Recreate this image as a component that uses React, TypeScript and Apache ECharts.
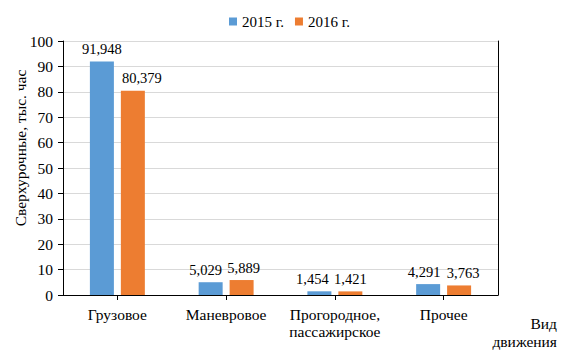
import React, { useEffect, useRef } from "react";
import * as echarts from "echarts";

const categories = ["Грузовое", "Маневровое", "Прогородное,\nпассажирское", "Прочее"];
const series2015 = [91.948, 5.029, 1.454, 4.291];
const series2016 = [80.379, 5.889, 1.421, 3.763];
const seriesNames = ["2015 г.", "2016 г."];
const yAxisTitle = "Сверхурочные, тыс. час";
const xAxisTitle = "Вид\nдвижения";
// horizontal nudges of the value labels, as placed in the original
const labelShift2015 = [0, -5, -7, -4];
const labelShift2016 = [9, 2, 0, 4];

const FONT = "Times New Roman";

export default function App() {
  const ref = useRef<HTMLDivElement>(null);
  useEffect(() => {
    document.body.style.margin = "0";
    if (!ref.current) return;
    const chart = echarts.init(ref.current, undefined, { renderer: "svg" });
    const fmt = (p: any) => Number(p.value).toFixed(3).replace(".", ",");
    const labelBase = {
      show: true,
      position: "top",
      distance: 5,
      formatter: fmt,
      fontFamily: FONT,
      fontSize: 14.5,
      color: "#000",
    };
    const withShift = (vals: number[], shifts: number[]) =>
      vals.map((v, i) => ({ value: v, label: { offset: [shifts[i], 0] } }));
    chart.setOption({
      animation: false,
      legend: {
        data: seriesNames,
        top: 9,
        left: 224,
        itemWidth: 8,
        itemHeight: 8,
        itemGap: 11,
        itemTextGap: 3,
        icon: "rect",
        textStyle: { fontFamily: FONT, fontSize: 15, color: "#000" },
      },
      grid: { left: 63, right: 68, top: 41, bottom: 59 },
      xAxis: {
        type: "category",
        data: categories,
        axisLine: { lineStyle: { color: "#000", width: 1 } },
        axisTick: { show: true, alignWithLabel: true, length: 5, lineStyle: { color: "#000" } },
        axisLabel: { interval: 0, fontFamily: FONT, fontSize: 15.5, color: "#000", margin: 11, lineHeight: 17 },
      },
      yAxis: [
        {
          type: "value",
          min: 0,
          max: 100,
          interval: 10,
          axisLine: { show: true, lineStyle: { color: "#000", width: 1 } },
          axisTick: { show: true, length: 5, lineStyle: { color: "#000" } },
          axisLabel: { fontFamily: FONT, fontSize: 15.5, color: "#000", margin: 10 },
          splitLine: { lineStyle: { color: "#d9d9d9" } },
        },
        {
          type: "value",
          position: "right",
          min: 0,
          max: 100,
          interval: 10,
          axisLine: { show: true, lineStyle: { color: "#000", width: 1 } },
          axisTick: { show: false },
          axisLabel: { show: false },
          splitLine: { show: false },
        },
      ],
      series: [
        {
          name: seriesNames[0],
          type: "bar",
          data: withShift(series2015, labelShift2015),
          barWidth: 24,
          barGap: "29%",
          itemStyle: { color: "#5B9BD5" },
          label: labelBase,
        },
        {
          name: seriesNames[1],
          type: "bar",
          data: withShift(series2016, labelShift2016),
          barWidth: 24,
          barGap: "29%",
          itemStyle: { color: "#ED7D31" },
          label: labelBase,
        },
      ],
      graphic: [
        {
          type: "text",
          x: 20,
          y: 148,
          rotation: Math.PI / 2,
          style: {
            text: yAxisTitle,
            fontFamily: FONT,
            fontSize: 15.5,
            fill: "#000",
            align: "center",
            verticalAlign: "middle",
          },
        },
        {
          type: "text",
          x: 557,
          y: 332,
          style: {
            text: xAxisTitle,
            fontFamily: FONT,
            fontSize: 15.5,
            lineHeight: 18,
            fill: "#000",
            align: "right",
            verticalAlign: "middle",
          },
        },
      ],
    });
    return () => chart.dispose();
  }, []);
  return <div ref={ref} style={{ width: 566, height: 354 }} />;
}
